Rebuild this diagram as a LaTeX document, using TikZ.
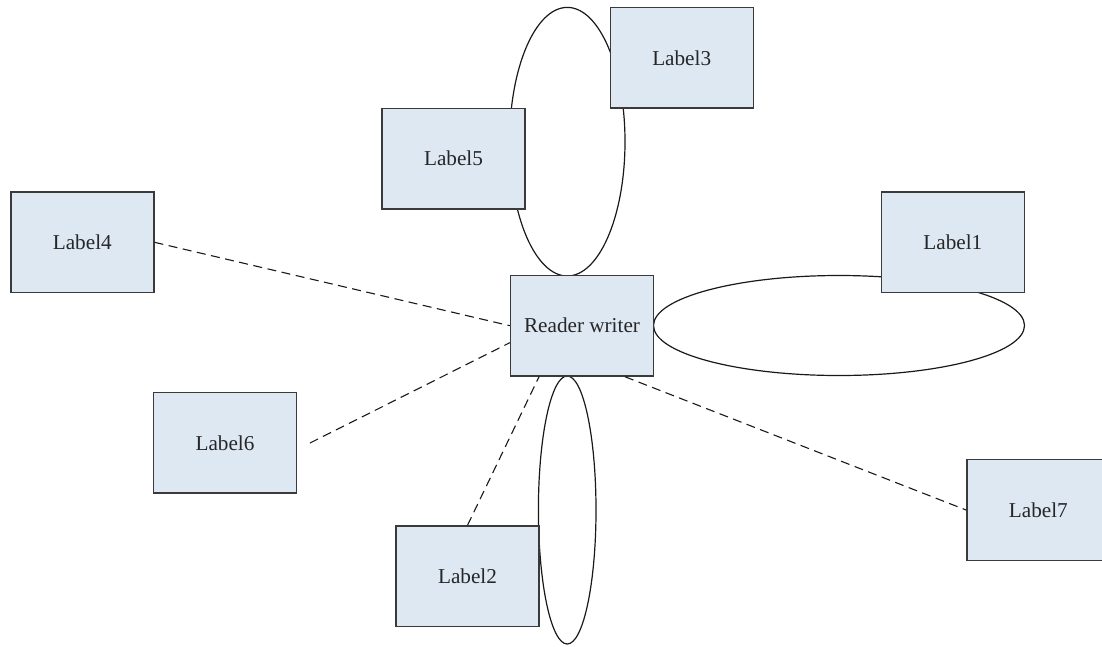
\documentclass[tikz,border=0pt]{standalone}
\usepackage{fontspec}
\setmainfont{Liberation Serif}
\usetikzlibrary{calc}
\definecolor{boxfill}{HTML}{DDE8F3}
\definecolor{boxline}{HTML}{3A3A3A}
\begin{document}
\begin{tikzpicture}[x=1pt,y=-1pt,
  labelbox/.style={rectangle, draw=boxline, fill=boxfill, line width=1.4pt,
    minimum width=143pt, minimum height=100.7pt, inner sep=0pt,
    font=\fontsize{21.2}{25}\selectfont, text=black!85},
  loop/.style={draw=black!90, line width=1.2pt},
  link/.style={draw=black!90, line width=1.1pt, dash pattern=on 9pt off 5.5pt}]
\useasboundingbox (0,0) rectangle (1102,646);
\clip (0,0) rectangle (1102,646);

% self-loops of the reader-writer node
\draw[loop] (567.3,141.7) ellipse [x radius=57.7pt, y radius=134.3pt];
\draw[loop] (839,325.5) ellipse [x radius=185.5pt, y radius=50pt];
\draw[loop] (567.2,510) ellipse [x radius=28.8pt, y radius=134pt];

% nodes
\node[labelbox] (reader) at (582,325.7) {Reader writer};
\node[labelbox] (label3) at (681.7,57.8) {Label3};
\node[labelbox] (label5) at (453.5,158.7) {Label5};
\node[labelbox] (label4) at (82.3,242.3) {Label4};
\node[labelbox] (label1) at (952.8,242.3) {Label1};
\node[labelbox] (label6) at (225,442.8) {Label6};
\node[labelbox] (label2) at (467.5,576.3) {Label2};
\node[labelbox] (label7) at (1038.3,510) {Label7};

\coordinate (l6end) at (310,443);

% dashed links
\draw[link] (label4.east) -- (reader.west);
\draw[link] (l6end) -- ([yshift=-17pt]reader.west);
\draw[link] (label2.north) -- ([xshift=-43pt]reader.south);
\draw[link] ([xshift=43pt]reader.south) -- (label7.west);
\end{tikzpicture}
\end{document}
